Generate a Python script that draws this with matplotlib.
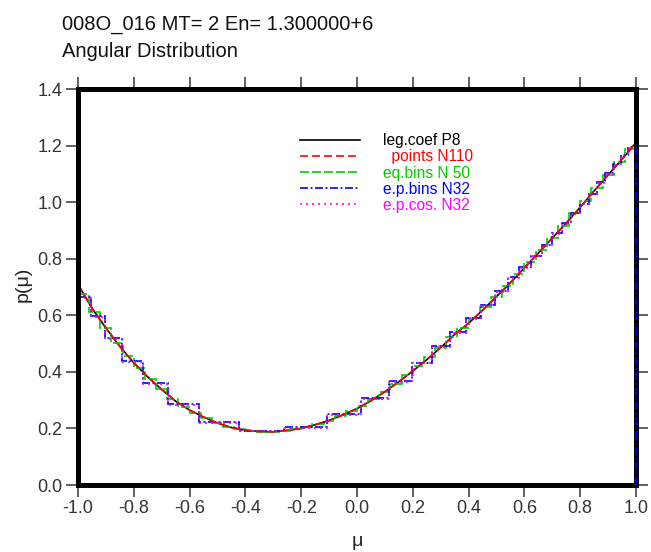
import matplotlib
matplotlib.use("Agg")
import matplotlib.pyplot as plt
from matplotlib.ticker import FormatStrFormatter

plt.rcParams['font.family'] = ['Liberation Sans', 'DejaVu Sans']
plt.rcParams['axes.unicode_minus'] = False

# Legendre-coefficient curve, mu step 0.05
mu = [-1.00, -0.95, -0.90, -0.85, -0.80, -0.75, -0.70, -0.65, -0.60, -0.55,
      -0.50, -0.45, -0.40, -0.35, -0.30, -0.25, -0.20, -0.15, -0.10, -0.05,
      0.00, 0.05, 0.10, 0.15, 0.20, 0.25, 0.30, 0.35, 0.40, 0.45,
      0.50, 0.55, 0.60, 0.65, 0.70, 0.75, 0.80, 0.85, 0.90, 0.95, 1.00]
p_leg = [0.710, 0.625, 0.555, 0.490, 0.432, 0.382, 0.338, 0.296, 0.265, 0.240,
         0.219, 0.203, 0.194, 0.189, 0.188, 0.193, 0.200, 0.213, 0.228, 0.248,
         0.270, 0.298, 0.330, 0.365, 0.403, 0.443, 0.486, 0.532, 0.572, 0.618,
         0.666, 0.715, 0.768, 0.820, 0.873, 0.926, 0.982, 1.040, 1.096, 1.152, 1.210]
# pointwise representation (overlaps the Legendre curve)
p_points = [0.710, 0.625, 0.555, 0.490, 0.432, 0.382, 0.338, 0.296, 0.265, 0.240,
            0.219, 0.203, 0.194, 0.189, 0.188, 0.193, 0.200, 0.213, 0.228, 0.248,
            0.270, 0.298, 0.330, 0.365, 0.403, 0.443, 0.486, 0.532, 0.572, 0.618,
            0.666, 0.715, 0.768, 0.820, 0.873, 0.926, 0.982, 1.040, 1.096, 1.152, 1.210]

# equal bins, N=50
eq_edges = [-1.00, -0.96, -0.92, -0.88, -0.84, -0.80, -0.76, -0.72, -0.68, -0.64,
            -0.60, -0.56, -0.52, -0.48, -0.44, -0.40, -0.36, -0.32, -0.28, -0.24,
            -0.20, -0.16, -0.12, -0.08, -0.04, 0.00, 0.04, 0.08, 0.12, 0.16,
            0.20, 0.24, 0.28, 0.32, 0.36, 0.40, 0.44, 0.48, 0.52, 0.56,
            0.60, 0.64, 0.68, 0.72, 0.76, 0.80, 0.84, 0.88, 0.92, 0.96, 1.00]
eq_vals = [0.676, 0.611, 0.555, 0.503, 0.455, 0.412, 0.373, 0.338, 0.304, 0.277,
           0.255, 0.236, 0.219, 0.206, 0.198, 0.192, 0.189, 0.188, 0.192, 0.197,
           0.205, 0.216, 0.228, 0.244, 0.261, 0.281, 0.304, 0.330, 0.358, 0.388,
           0.419, 0.452, 0.486, 0.523, 0.556, 0.590, 0.628, 0.666, 0.705, 0.747,
           0.789, 0.831, 0.873, 0.915, 0.960, 1.005, 1.051, 1.096, 1.141, 1.187]

# equal-probability bins, N=32
ep_edges = [-1.000, -0.955, -0.902, -0.842, -0.768, -0.679, -0.566, -0.424, -0.262,
            -0.108, 0.013, 0.113, 0.198, 0.270, 0.334, 0.392, 0.445, 0.494, 0.540,
            0.582, 0.623, 0.662, 0.698, 0.733, 0.767, 0.800, 0.831, 0.861, 0.890,
            0.919, 0.946, 0.973, 1.000]
ep_vals = [0.665, 0.598, 0.518, 0.438, 0.360, 0.285, 0.222, 0.192, 0.205, 0.250,
           0.307, 0.367, 0.433, 0.490, 0.541, 0.590, 0.638, 0.686, 0.735, 0.770,
           0.810, 0.850, 0.890, 0.925, 0.960, 0.995, 1.030, 1.070, 1.103, 1.135,
           1.165, 1.195]

# equal-probability cosines, N=32
epc_edges = [-1.000, -0.955, -0.902, -0.842, -0.768, -0.679, -0.566, -0.424, -0.262,
             -0.108, 0.013, 0.113, 0.198, 0.270, 0.334, 0.392, 0.445, 0.494, 0.540,
             0.582, 0.623, 0.662, 0.698, 0.733, 0.767, 0.800, 0.831, 0.861, 0.890,
             0.919, 0.946, 0.973, 1.000]
epc_vals = [0.660, 0.595, 0.515, 0.436, 0.358, 0.283, 0.220, 0.190, 0.203, 0.248,
            0.305, 0.365, 0.431, 0.488, 0.539, 0.588, 0.636, 0.684, 0.733, 0.768,
            0.808, 0.848, 0.888, 0.923, 0.958, 0.993, 1.028, 1.068, 1.101, 1.133,
            1.163, 1.193]

labels = ['leg.coef P8', '  points N110', 'eq.bins N 50', 'e.p.bins N32', 'e.p.cos. N32']
colors = ['#000000', '#ff0000', '#00cc00', '#0000ff', '#ff00ff']
xticks = [-1.0, -0.8, -0.6, -0.4, -0.2, 0.0, 0.2, 0.4, 0.6, 0.8, 1.0]
yticks = [0.0, 0.2, 0.4, 0.6, 0.8, 1.0, 1.2, 1.4]

fig = plt.figure(figsize=(6.51, 5.52), dpi=100)
ax = fig.add_axes([78/651, 1-485/552, 558/651, 396/552])

lw = 1.2
ax.plot(mu, p_leg, color=colors[0], lw=lw, ls='-', label=labels[0], zorder=2.0)
ax.plot(mu, p_points, color=colors[1], lw=lw, ls=(0, (4.8, 2.4)), label=labels[1], zorder=2.4)
ax.stairs(eq_vals, eq_edges, color=colors[2], lw=lw, ls=(0, (5.4, 1.8)),
          baseline=None, label=labels[2], zorder=2.1)
ax.stairs(ep_vals, ep_edges, color=colors[3], lw=lw, ls=(0, (4.8, 1.5, 1.2, 1.5)),
          baseline=None, label=labels[3], zorder=2.2)
ax.vlines(ep_edges[-1], 0, ep_vals[-1], color=colors[3], lw=lw,
          linestyles=(0, (4.8, 1.5, 1.2, 1.5)), zorder=3, clip_on=False)
ax.stairs(epc_vals, epc_edges, color=colors[4], lw=lw, ls=(0, (1.2, 2.4)),
          baseline=None, label=labels[4], zorder=2.3)

ax.set_xlim(-1.0, 1.0)
ax.set_ylim(0.0, 1.4)
ax.set_xticks(xticks)
ax.set_yticks(yticks)
ax.xaxis.set_major_formatter(FormatStrFormatter('%.1f'))
ax.yaxis.set_major_formatter(FormatStrFormatter('%.1f'))
ax.tick_params(axis='both', which='major', direction='out', length=8.6, width=1.2,
               color='#444444', labelcolor='#333333', labelsize=13, pad=2.5,
               top=True, right=True, labeltop=False, labelright=False)
for s in ax.spines.values():
    s.set_linewidth(3.6)
    s.set_color('black')

leg = ax.legend(loc='upper left', bbox_to_anchor=(0.398, 0.888), frameon=False,
                fontsize=11.2, handlelength=3.85, handletextpad=1.45,
                labelspacing=0.07, borderpad=0, borderaxespad=0)
for t, c in zip(leg.get_texts(), colors):
    t.set_color(c)

fig.text(62/651, 1-30/552, '008O_016 MT= 2 En= 1.300000+6', fontsize=14.5,
         ha='left', va='baseline', color='#111111')
fig.text(62/651, 1-56.7/552, 'Angular Distribution', fontsize=14.5,
         ha='left', va='baseline', color='#111111')
fig.text(23/651, 1-284/552, 'p(μ)', fontsize=14, rotation=90, ha='center',
         va='center', color='#222222')
fig.text(357/651, 1-541/552, 'μ', fontsize=14, ha='center', va='center',
         color='#222222')

fig.savefig('out.png', dpi=100)
